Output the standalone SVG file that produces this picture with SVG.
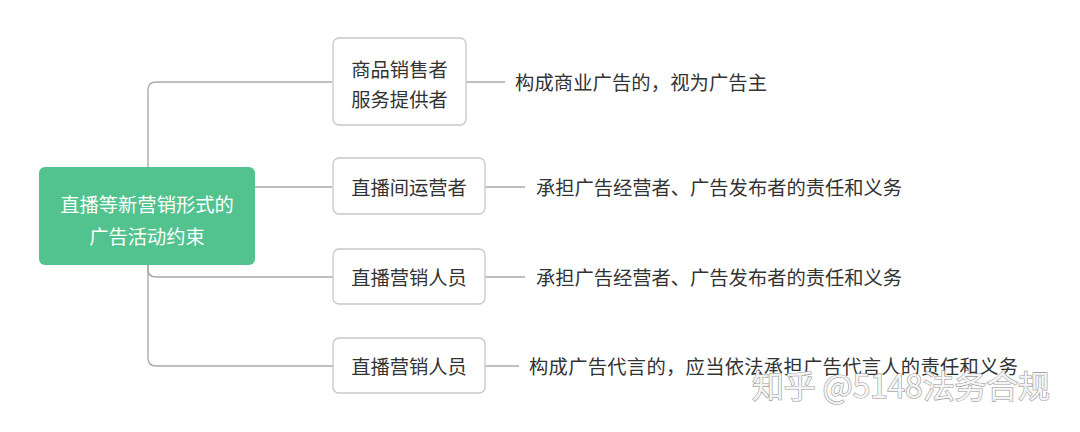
<svg xmlns="http://www.w3.org/2000/svg" width="1080" height="432" viewBox="0 0 1080 432">
<style>
.node{fill:#fff;stroke:#c8c8c8;stroke-width:1.3}
.t{font-family:"Noto Sans CJK SC","Noto Sans",sans-serif;font-size:19.3px;fill:#333;dominant-baseline:central}
.c{text-anchor:middle}
.w{font-family:"Noto Sans CJK SC","Noto Sans",sans-serif;fill:#f4f4f4;stroke:#999;stroke-width:1.2;font-size:32px;dominant-baseline:central;paint-order:stroke}
.ln{fill:none;stroke:#aaa;stroke-width:1.4}
</style>
<rect width="1080" height="432" fill="#fff"/>
<g id="connectors">
<path class="ln" d="M148,167 V90 Q148,82 156,82 H332"/>
<path class="ln" d="M255,187 H332"/>
<path class="ln" d="M148,265 V269 Q148,277 156,277 H333"/>
<path class="ln" d="M148,265 V358 Q148,366 156,366 H333"/>
<path class="ln" d="M466,82 H505"/>
<path class="ln" d="M485,187 H525"/>
<path class="ln" d="M485,277 H525"/>
<path class="ln" d="M485,366 H519"/>
</g>
<g id="root">
<rect x="39" y="167" width="216" height="98" rx="6" fill="#52c38e"/>
<text class="t c" x="147" y="204" style="fill:#fff">直播等新营销形式的</text>
<text class="t c" x="147" y="236" style="fill:#fff">广告活动约束</text>
</g>
<g id="n1">
<rect class="node" x="333" y="38" width="133" height="87" rx="6"/>
<text class="t c" x="399.5" y="69">商品销售者</text>
<text class="t c" x="399.5" y="99">服务提供者</text>
</g>
<g id="n2">
<rect class="node" x="333" y="158" width="152" height="56" rx="6"/>
<text class="t c" x="409" y="187">直播间运营者</text>
</g>
<g id="n3">
<rect class="node" x="333" y="249" width="152" height="55" rx="6"/>
<text class="t c" x="409" y="277">直播营销人员</text>
</g>
<g id="n4">
<rect class="node" x="333" y="338" width="152" height="55" rx="6"/>
<text class="t c" x="409" y="366">直播营销人员</text>
</g>
<g id="l1"><text class="t" x="515" y="82" textLength="252" lengthAdjust="spacing">构成商业广告的，视为广告主</text></g>
<g id="l2"><text class="t" x="536" y="187" textLength="366" lengthAdjust="spacing">承担广告经营者、广告发布者的责任和义务</text></g>
<g id="l3"><text class="t" x="536" y="277" textLength="366" lengthAdjust="spacing">承担广告经营者、广告发布者的责任和义务</text></g>
<g id="l4"><text class="t" x="529" y="366" textLength="489" lengthAdjust="spacing">构成广告代言的，应当依法承担广告代言人的责任和义务</text></g>
<text class="w" x="752" y="384" textLength="298" lengthAdjust="spacing">知乎 @5148法务合规</text>
</svg>
